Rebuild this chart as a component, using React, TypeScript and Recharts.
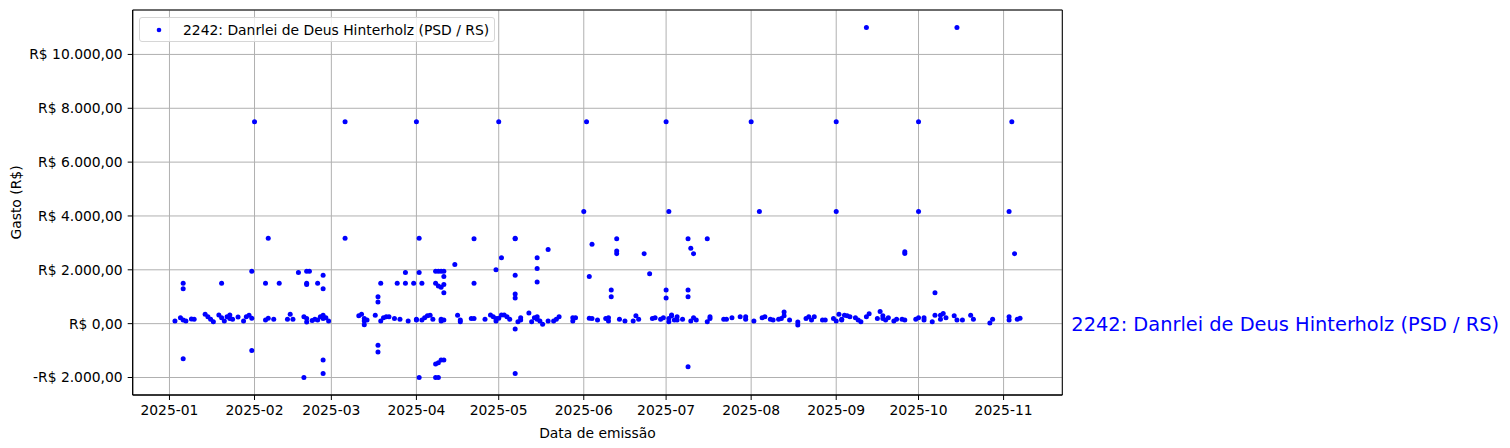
import React from 'react';
import {
  ScatterChart,
  Scatter,
  XAxis,
  YAxis,
  CartesianGrid,
  ReferenceArea,
  ReferenceLine,
} from 'recharts';

// [dia do mês, valor em R$]
type Ponto = [number, number];

const ANO = 2025;
const meses = ['01', '02', '03', '04', '05', '06', '07', '08', '09', '10', '11'];
const deputado = '2242: Danrlei de Deus Hinterholz (PSD / RS)';

const gastosJan: Ponto[] = [
  [3, 100], [5, 220], [6, 140], [6, 1500], [6, 1300], [6, -1300], [7, 100], [9, 170], [10, 160],
  [14, 350], [15, 260], [16, 160], [17, 75], [19, 320], [20, 220], [20, 1500], [21, 100], [22, 260],
  [23, 320], [23, 190], [24, 160], [26, 250], [28, 100], [29, 260], [30, 310], [31, 200], [31, 1950],
  [31, -1000],
];
const gastosFev: Ponto[] = [
  [1, 7500], [5, 140], [5, 1500], [6, 3170], [6, 200], [8, 160], [10, 1500], [13, 160], [14, 350],
  [15, 160], [17, 1900], [19, 260], [19, -2000], [20, 190], [20, 60], [20, 1950], [20, 1500],
  [20, 1450], [21, 1950], [22, 120], [23, 160], [24, 140], [24, 1500], [25, 260], [26, 310],
  [26, 190], [26, 1800], [26, 1300], [26, -1350], [26, -1850], [27, 220], [28, 100],
];
const gastosMar: Ponto[] = [
  [6, 7500], [6, 3170], [11, 290], [12, 350], [13, 190], [13, 100], [13, -40], [14, 140], [17, 310],
  [18, 1000], [18, 800], [18, -800], [18, -1050], [19, 100], [19, 1500], [20, 220], [21, 260],
  [22, 260], [24, 190], [25, 1500], [26, 160], [28, 1900], [28, 1500], [29, 100], [31, 1500],
];
const gastosAbr: Ponto[] = [
  [1, 7500], [1, 160], [1, 140], [2, 1900], [2, -2000], [2, 3170], [3, 140], [3, 1500], [4, 220],
  [5, 290], [6, 310], [7, 160], [8, 1950], [8, 1500], [8, -1500], [8, -2000], [9, 1950], [9, 1400],
  [9, -1450], [9, -2000], [10, 1950], [10, 1350], [10, 160], [10, 100], [10, -1350], [11, 1950],
  [11, 1450], [11, 1750], [11, 1150], [11, 140], [11, -1350], [15, 2200], [16, 310], [17, 140],
  [17, 75], [21, 190], [22, 190], [22, 3150], [22, 1500], [26, 160], [28, 320], [29, 260], [30, 190],
  [30, 100], [30, 2000],
];
const gastosMai: Ponto[] = [
  [1, 7500], [1, 200], [2, 2450], [2, 320], [3, 320], [4, 260], [5, 160], [7, 3150], [7, 3170],
  [7, 1800], [7, 1100], [7, 950], [7, -200], [7, -1850], [8, 75], [9, 140], [9, 220], [12, 400],
  [13, 75], [14, 220], [15, 160], [15, 2450], [15, 2050], [15, 1550], [15, 260], [16, 100], [17, -20],
  [19, 100], [19, 2750], [21, 100], [22, 160], [23, 260], [28, 220], [28, 100], [29, 220],
];
const gastosJun: Ponto[] = [
  [1, 4170], [2, 7500], [3, 1750], [3, 200], [4, 190], [4, 2950], [6, 140], [9, 190], [10, 220],
  [10, 100], [11, 1250], [11, 1000], [13, 3150], [13, 2700], [13, 2600], [14, 160], [16, 100],
  [19, 100], [20, 290], [21, 160], [23, 2600], [25, 1850], [26, 190], [27, 220], [29, 160], [30, 220],
];
const gastosJul: Ponto[] = [
  [1, 7500], [1, 1250], [1, 950], [2, 190], [2, 4170], [2, 75], [3, 290], [3, 320], [4, 140],
  [5, 260], [5, 140], [7, 160], [9, 3150], [9, 1250], [9, 1000], [9, -1600], [10, 100], [10, 2800],
  [11, 220], [11, 2600], [12, 140], [16, 75], [16, 3150], [17, 190], [17, 260], [22, 160], [23, 160],
  [25, 220], [28, 260], [30, 260], [30, 160],
];
const gastosAgo: Ponto[] = [
  [1, 7500], [2, 100], [4, 4170], [5, 220], [6, 260], [8, 160], [9, 140], [11, 160], [12, 190],
  [13, 430], [13, 290], [15, 140], [18, 60], [18, -50], [21, 190], [22, 260], [23, 140], [24, 260],
  [27, 140], [28, 140], [31, 190],
];
const gastosSet: Ponto[] = [
  [1, 7500], [1, 4170], [1, 100], [2, 350], [3, 160], [3, 140], [4, 310], [5, 290], [6, 260],
  [8, 220], [9, 140], [10, 75], [12, 11000], [12, 260], [13, 370], [16, 190], [17, 450], [18, 190],
  [18, 290], [19, 140], [20, 220], [22, 100], [23, 160], [25, 160], [26, 140], [26, 2670], [26, 2610],
  [30, 160],
];
const gastosOut: Ponto[] = [
  [1, 7500], [1, 4170], [1, 220], [3, 220], [3, 140], [6, 75], [7, 1150], [7, 310], [9, 160],
  [9, 310], [10, 380], [11, 220], [14, 290], [15, 11000], [15, 140], [17, 140], [20, 310], [21, 160],
  [27, 20], [28, 160],
];
const gastosNov: Ponto[] = [
  [3, 260], [3, 140], [3, 4170], [4, 7500], [5, 2600], [6, 160], [7, 200],
];

const gastosPorMes: Ponto[][] = [
  gastosJan, gastosFev, gastosMar, gastosAbr, gastosMai, gastosJun,
  gastosJul, gastosAgo, gastosSet, gastosOut, gastosNov,
];

const yTicks = [-2000, 0, 2000, 4000, 6000, 8000, 10000];

const diaDoAno = (mes: number, dia: number) =>
  (Date.UTC(ANO, mes, dia) - Date.UTC(ANO, 0, 1)) / 86400000;

const dados = gastosPorMes.flatMap((lista, m) =>
  lista.map(([dia, valor]) => ({ x: diaDoAno(m, dia), y: valor }))
);

const xTicks = meses.map((_, m) => diaDoAno(m, 1));

// margem automática de 5% como no matplotlib
const comMargem = (vals: number[]): [number, number] => {
  const min = Math.min(...vals);
  const max = Math.max(...vals);
  const pad = (max - min) * 0.05;
  return [min - pad, max + pad];
};
const xDomain = comMargem(dados.map((d) => d.x));
const yDomain = comMargem(dados.map((d) => d.y));

const formatReal = (v: number) => {
  const [int, dec] = Math.abs(v).toFixed(2).split('.');
  const intFmt = int.replace(/\B(?=(\d{3})+(?!\d))/g, '.');
  return `${v < 0 ? '-' : ''}R$ ${intFmt},${dec}`;
};

const formatMes = (v: number) => {
  const i = xTicks.indexOf(v);
  return i >= 0 ? `${ANO}-${meses[i]}` : '';
};

const FONT = 'DejaVu Sans';
const tickStyle = { fill: '#000', fontSize: 13.89, fontFamily: FONT };

const Ponto = (props: any) => (
  <circle cx={props.cx} cy={props.cy} r={2.5} fill="#0000ff" />
);

export default function App() {
  return (
    <div style={{ position: 'absolute', left: 0, top: 0, width: 1510, height: 448, fontFamily: FONT }}>
      <ScatterChart
        width={1510}
        height={448}
        margin={{ top: 10, right: 447.7, bottom: 0, left: 0 }}
      >
        <XAxis
          type="number"
          dataKey="x"
          domain={xDomain}
          ticks={xTicks}
          tickFormatter={formatMes}
          height={53}
          tick={tickStyle}
          tickSize={5}
          tickMargin={5}
          axisLine={{ stroke: '#000' }}
          tickLine={{ stroke: '#000' }}
          allowDataOverflow
          label={{
            value: 'Data de emissão',
            position: 'insideBottom',
            offset: 10,
            fill: '#000',
            fontSize: 13.89,
            fontFamily: FONT,
          }}
        />
        <YAxis
          type="number"
          dataKey="y"
          domain={yDomain}
          ticks={yTicks}
          tickFormatter={formatReal}
          width={132.7}
          tick={tickStyle}
          tickSize={5}
          tickMargin={5}
          axisLine={{ stroke: '#000' }}
          tickLine={{ stroke: '#000' }}
          allowDataOverflow
          label={{
            value: 'Gasto (R$)',
            angle: -90,
            position: 'insideLeft',
            offset: 16,
            fill: '#000',
            fontSize: 13.89,
            fontFamily: FONT,
            style: { textAnchor: 'middle' },
          }}
        />
        <Scatter
          name={deputado}
          data={dados}
          fill="#0000ff"
          shape={Ponto}
          isAnimationActive={false}
        />
        <CartesianGrid stroke="#b0b0b0" strokeWidth={1} />
        <ReferenceArea
          x1={xDomain[0]}
          x2={xDomain[1]}
          y1={yDomain[0]}
          y2={yDomain[1]}
          fill="none"
          stroke="#000"
          strokeWidth={1}
        />
        <ReferenceLine
          y={0}
          stroke="none"
          label={{
            value: deputado,
            position: 'right',
            offset: 9,
            fill: '#0000ff',
            fontSize: 19.4,
            fontFamily: FONT,
          }}
        />
      </ScatterChart>
      <div
        style={{
          position: 'absolute',
          left: 139,
          top: 17,
          width: 356,
          height: 25,
          boxSizing: 'border-box',
          border: '1px solid #d6d6d6',
          borderRadius: 3,
          background: 'rgba(255,255,255,0.8)',
          display: 'flex',
          alignItems: 'center',
          fontSize: 13.89,
          color: '#000',
        }}
      >
        <svg width={43} height={23} style={{ flex: 'none' }}>
          <circle cx={19} cy={12} r={2.3} fill="#0000ff" />
        </svg>
        <span style={{ whiteSpace: 'nowrap' }}>{deputado}</span>
      </div>
    </div>
  );
}
